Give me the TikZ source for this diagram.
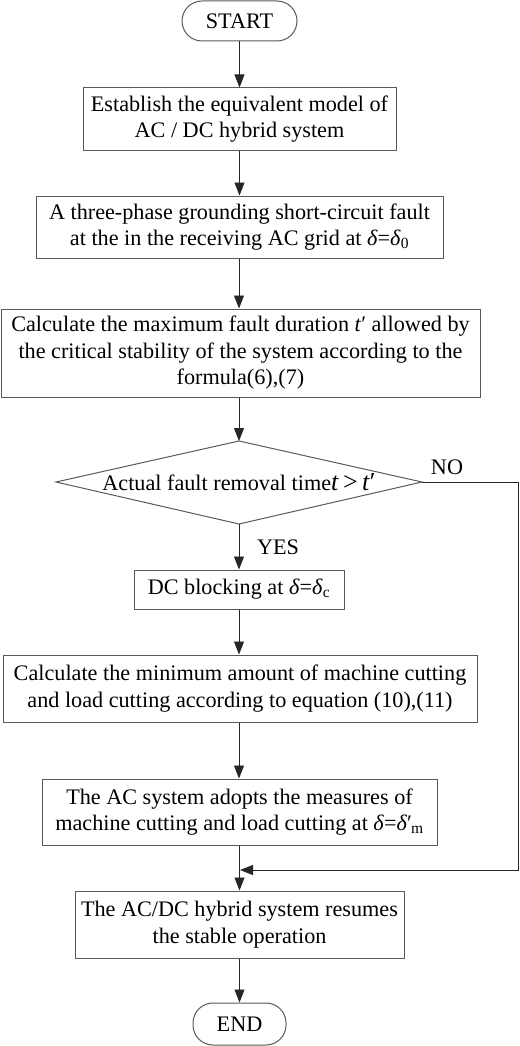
\documentclass[tikz,border=0pt]{standalone}
\usepackage{fontspec}
\setmainfont{Liberation Serif}
\usetikzlibrary{arrows.meta}
\newcommand{\dl}{\textit{δ}}
\begin{document}
\begin{tikzpicture}[x=1pt,y=-1pt,
  every node/.style={font=\fontsize{22.2}{26.5}\selectfont, align=center, inner sep=0pt},
  box/.style={draw=black!65, line width=1pt, rectangle},
  term/.style={draw=black!65, line width=1pt, rectangle, rounded corners=20pt},
  arr/.style={draw=black!85, line width=0.9pt, -{Triangle[length=13pt,width=10pt]}},
  lbl/.style={font=\fontsize{22.2}{24}\selectfont}]
\useasboundingbox (0,0) rectangle (519,1046);
\node[term, minimum width=115pt, minimum height=40pt] (start) at (239.5,21) {START};
\node[box, minimum width=313pt, minimum height=62pt] (b1) at (239.5,119) {Establish the equivalent model of\\AC / DC hybrid system};
\node[box, minimum width=407pt, minimum height=62pt] (b2) at (239.5,227) {A three-phase grounding short-circuit fault\\at the in the receiving AC grid at \dl=\dl\textsubscript{0}};
\node[box, minimum width=479pt, minimum height=88pt] (b3) at (240.5,353) {Calculate the maximum fault duration \textit{t}′ allowed by\\the critical stability of the system according to the\\formula(6),(7)};
\coordinate (dT) at (239,441);
\coordinate (dB) at (239,524);
\coordinate (dL) at (56,482);
\coordinate (dR) at (422,482);
\draw[draw=black!65, line width=1pt] (dL) -- (dT) -- (dR) -- (dB) -- cycle;
\node (dtext) at (239,482) {Actual fault removal time{\fontsize{26}{28}\selectfont\textit{t}\,>\,\textit{t}′}};
\node[box, minimum width=210pt, minimum height=39pt] (b4) at (239,589.5) {DC blocking at \dl=\dl\textsubscript{c}};
\node[box, minimum width=474pt, minimum height=67pt] (b5) at (240,688.5) {Calculate the minimum amount of machine cutting\\and load cutting according to equation (10),(11)};
\node[box, minimum width=395pt, minimum height=66pt] (b6) at (239.5,812) {The AC system adopts the measures of\\machine cutting and load cutting at \dl=\dl′\kern-1pt\textsubscript{m}};
\node[box, minimum width=329pt, minimum height=67pt] (b7) at (239.5,924.5) {The AC/DC hybrid system resumes\\the stable operation};
\node[term, minimum width=93pt, minimum height=42pt] (end) at (239.5,1024) {END};
\node[lbl] (no) at (447,467) {NO};
\node[lbl] (yes) at (278,547) {YES};
\coordinate (c1) at (518,482);
\coordinate (c2) at (518,870);
\coordinate (j) at (240,870);
\draw[arr] (start) -- (b1);
\draw[arr] (b1) -- (b2);
\draw[arr] (b2.south -| dT) -- (b3.north -| dT);
\draw[arr] (b3.south -| dT) -- (dT);
\draw[arr] (dB) -- (b4.north -| dB);
\draw[arr] (b4) -- (b5.north -| b4);
\draw[arr] (b5.south -| b4) -- (b6.north -| b4);
\draw[arr] (b6) -- (b7);
\draw[arr] (b7) -- (end);
\draw[arr] (dR) -- (c1) -- (c2) -- (j);
\end{tikzpicture}
\end{document}
